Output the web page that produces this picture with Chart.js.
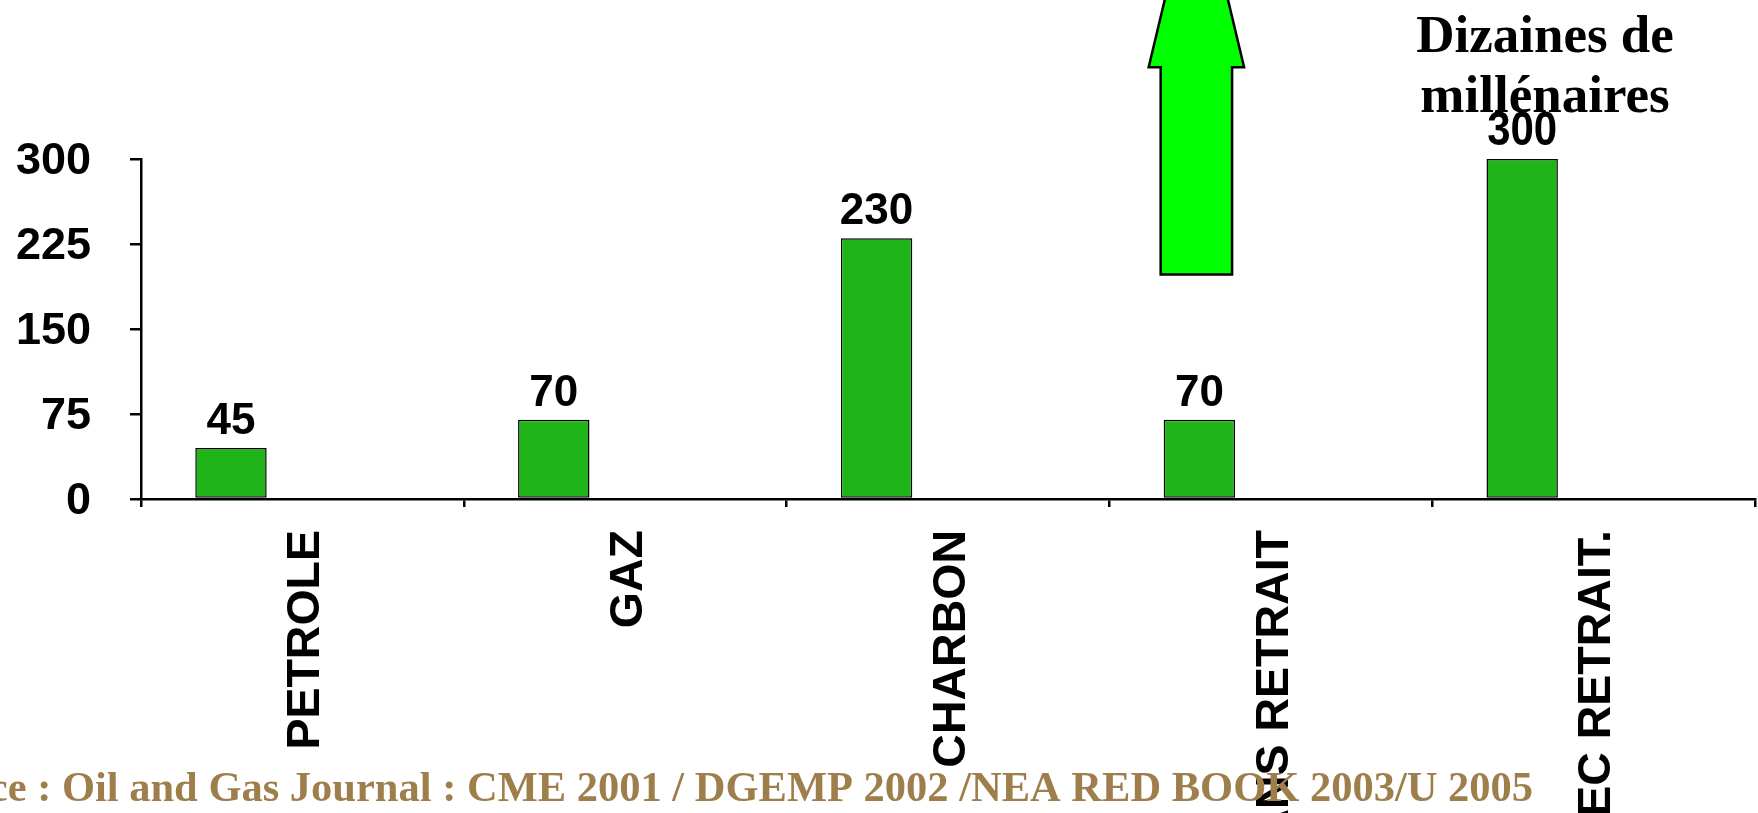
<!DOCTYPE html>
<html>
<head>
  <meta charset="UTF-8">
  <title>Réserves énergétiques</title>
  <style>
    body {
      margin: 0;
      background: #ffffff;
    }
    #wrap {
      width: 1758px;
      height: 813px;
    }
  </style>
</head>
<body>
  <div id="wrap">
    <canvas id="reservesChart" width="1758" height="813"></canvas>
  </div>

  <script src="https://cdn.jsdelivr.net/npm/chart.js"></script>
  <script>
    // Années de réserves par ressource
    const categories = ["PETROLE", "GAZ", "CHARBON", "SANS RETRAIT", "AVEC RETRAIT."];
    const years = [45, 70, 230, 70, 300];
    // second (vide) series of the original workbook, it only shifts the bars left
    const emptySeries = [null, null, null, null, null];
    const yTicks = [0, 75, 150, 225, 300];

    // green arrow above "SANS RETRAIT" (axis units)
    const arrowFrom = 198;
    const arrowHeadAt = 381;

    const noteLines = ["Dizaines de", "millénaires"];
    const sourceText = "Source : Oil and Gas Journal : CME 2001 / DGEMP 2002 /NEA RED BOOK 2003/U 2005";

    const SANS = '"Liberation Sans", Arial, sans-serif';
    const SERIF = '"Liberation Serif", "Times New Roman", serif';

    const valueLabels = {
      id: "valueLabels",
      afterDatasetsDraw(chart) {
        const ctx = chart.ctx;
        const meta = chart.getDatasetMeta(0);
        ctx.save();
        ctx.fillStyle = "#000000";
        ctx.textAlign = "center";
        ctx.textBaseline = "alphabetic";
        meta.data.forEach((bar, i) => {
          const text = String(years[i]);
          if (i === years.length - 1) {
            // last label is a taller, condensed face
            ctx.save();
            ctx.font = "bold 48px " + SANS;
            ctx.translate(bar.x, bar.y - 14);
            ctx.scale(0.875, 1);
            ctx.fillText(text, 0, 0);
            ctx.restore();
          } else {
            ctx.font = "bold 44px " + SANS;
            ctx.fillText(text, bar.x, bar.y - 14);
          }
        });
        ctx.restore();
      },
    };

    const upArrow = {
      id: "upArrow",
      afterDatasetsDraw(chart) {
        const ctx = chart.ctx;
        const bar = chart.getDatasetMeta(0).data[3];
        const y = chart.scales.y;
        const cx = bar.x - 3;
        const left = cx - bar.width / 2;
        const right = cx + bar.width / 2;
        const bottom = y.getPixelForValue(arrowFrom);
        const headBase = y.getPixelForValue(arrowHeadAt);
        const overhang = 12;
        const halfBase = bar.width / 2 + overhang;
        const tipY = headBase - halfBase * 67 / 16;

        ctx.save();
        ctx.beginPath();
        ctx.moveTo(left, bottom);
        ctx.lineTo(left, headBase);
        ctx.lineTo(left - overhang, headBase);
        ctx.lineTo(cx, tipY);
        ctx.lineTo(right + overhang, headBase);
        ctx.lineTo(right, headBase);
        ctx.lineTo(right, bottom);
        ctx.closePath();
        ctx.fillStyle = "#00ff00";
        ctx.fill();
        ctx.lineWidth = 2.5;
        ctx.strokeStyle = "#000000";
        ctx.lineJoin = "miter";
        ctx.stroke();
        ctx.restore();
      },
    };

    const notes = {
      id: "notes",
      afterDraw(chart) {
        const ctx = chart.ctx;
        ctx.save();
        ctx.fillStyle = "#000000";
        ctx.textAlign = "center";
        ctx.textBaseline = "alphabetic";
        ctx.font = "bold 53px " + SERIF;
        ctx.fillText(noteLines[0], 1545, 52);
        ctx.fillText(noteLines[1], 1545, 112);

        ctx.fillStyle = "#9e7f4c";
        ctx.textAlign = "right";
        ctx.font = "bold 42.5px " + SERIF;
        ctx.fillText(sourceText, 1533, 801);
        ctx.restore();
      },
    };

    const ctx = document.getElementById("reservesChart").getContext("2d");
    new Chart(ctx, {
      type: "bar",
      data: {
        labels: categories,
        datasets: [
          {
            label: "Années",
            data: years,
            backgroundColor: "#1fb518",
            borderColor: "#000000",
            borderWidth: 1.5,
            borderSkipped: false,
            categoryPercentage: 0.885,
            barPercentage: 0.5,
          },
          {
            label: "",
            data: emptySeries,
            backgroundColor: "#1fb518",
            categoryPercentage: 0.885,
            barPercentage: 0.5,
          },
        ],
      },
      options: {
        responsive: false,
        animation: false,
        layout: {
          padding: { top: 159, right: 3, left: 0, bottom: 0 },
        },
        plugins: {
          legend: { display: false },
          tooltip: { enabled: false },
        },
        scales: {
          x: {
            afterFit(scale) {
              scale.height = 314;
            },
            grid: {
              display: true,
              drawOnChartArea: false,
              drawTicks: true,
              tickLength: 8,
              color: "#000000",
              lineWidth: 2.5,
            },
            border: { display: true, color: "#000000", width: 2.5 },
            ticks: {
              autoSkip: false,
              minRotation: 90,
              maxRotation: 90,
              padding: 23,
              labelOffset: 4,
              color: "#000000",
              font: { family: SANS, size: 46.5, weight: "bold" },
            },
          },
          y: {
            min: 0,
            max: 300,
            afterFit(scale) {
              scale.width = 141;
            },
            afterBuildTicks(scale) {
              scale.ticks = yTicks.map((v) => ({ value: v }));
            },
            grid: {
              display: true,
              drawOnChartArea: false,
              drawTicks: true,
              tickLength: 11,
              color: "#000000",
              lineWidth: 2.5,
            },
            border: { display: true, color: "#000000", width: 2.5 },
            ticks: {
              padding: 39,
              labelOffset: 3,
              color: "#000000",
              font: { family: SANS, size: 45, weight: "bold" },
            },
          },
        },
      },
      plugins: [upArrow, valueLabels, notes],
    });
  </script>
</body>
</html>
